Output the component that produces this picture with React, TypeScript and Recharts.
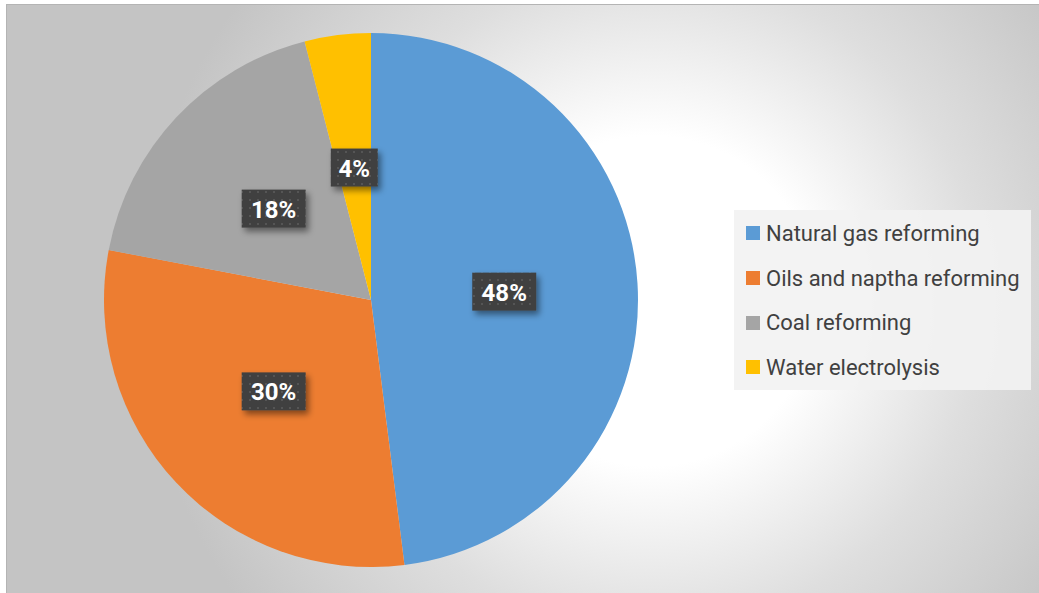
import { PieChart, Pie, Cell, Legend } from "recharts";

const categories = [
  "Natural gas reforming",
  "Oils and naptha reforming",
  "Coal reforming",
  "Water electrolysis",
];
const shares = [48, 30, 18, 4];
const COLORS = ["#5b9bd5", "#ed7d31", "#a5a5a5", "#ffc000"];

const data = categories.map((name, i) => ({ name, value: shares[i] }));

const RAD = Math.PI / 180;
const FONT = "Roboto, 'Liberation Sans', sans-serif";

function renderLabel(props: any) {
  const { cx, cy, midAngle, outerRadius, value } = props;
  const r = outerRadius * 0.5;
  const x = cx + r * Math.cos(-midAngle * RAD);
  const y = cy + r * Math.sin(-midAngle * RAD);
  const text = `${value}%`;
  const w = text.length > 2 ? 64 : 47;
  const h = 38;
  return (
    <g>
      <rect
        x={x - w / 2}
        y={y - h / 2}
        width={w}
        height={h}
        fill="url(#dots)"
        filter="url(#lblShadow)"
      />
      <text
        x={x}
        y={y + 1}
        fill="#ffffff"
        textAnchor="middle"
        dominantBaseline="central"
        fontFamily={FONT}
        fontWeight={700}
        fontSize={24}
      >
        {text}
      </text>
    </g>
  );
}

function LegendBox() {
  return (
    <div
      style={{
        width: 297,
        height: 180,
        background: "rgba(242,242,242,0.92)",
        boxSizing: "border-box",
        paddingTop: 1,
        paddingLeft: 12,
        fontFamily: FONT,
        fontSize: 22,
        color: "#404040",
      }}
    >
      {categories.map((c, i) => (
        <div key={c} style={{ display: "flex", alignItems: "center", height: 44.7 }}>
          <span
            style={{ width: 14, height: 14, background: COLORS[i], marginRight: 6, flex: "none" }}
          />
          <span style={{ whiteSpace: "nowrap" }}>{c}</span>
        </div>
      ))}
    </div>
  );
}

export default function App() {
  return (
    <div
      style={{
        position: "absolute",
        left: 6,
        top: 4,
        width: 1033,
        height: 589,
        boxSizing: "border-box",
        borderTop: "1px solid #b4b4b4",
        borderLeft: "1px solid #b4b4b4",
        background:
          "radial-gradient(circle 520px at 644px 296px, #ffffff 0px, #ffffff 165px, #dedede 330px, #c4c4c4 510px)",
        overflow: "hidden",
      }}
    >
      <PieChart width={1033} height={589} style={{ position: "absolute", left: -1, top: -1 }}>
        <defs>
          <pattern id="dots" width="8" height="8" patternUnits="userSpaceOnUse">
            <rect width="8" height="8" fill="#404040" />
            <rect x="3" y="3" width="2" height="2" fill="#555555" />
          </pattern>
          <filter id="lblShadow" x="-20%" y="-20%" width="150%" height="160%">
            <feDropShadow dx="3" dy="4" stdDeviation="3" floodColor="#000" floodOpacity="0.45" />
          </filter>
        </defs>
        <Pie
          data={data}
          dataKey="value"
          nameKey="name"
          cx={360}
          cy={291}
          outerRadius={267}
          startAngle={90}
          endAngle={-270}
          stroke="none"
          label={renderLabel}
          labelLine={false}
          isAnimationActive={false}
        >
          {data.map((_, i) => (
            <Cell key={i} fill={COLORS[i]} />
          ))}
        </Pie>
        <Legend
          content={() => <LegendBox />}
          wrapperStyle={{ left: 728, top: 206, width: 297, height: 180 }}
        />
      </PieChart>
    </div>
  );
}
